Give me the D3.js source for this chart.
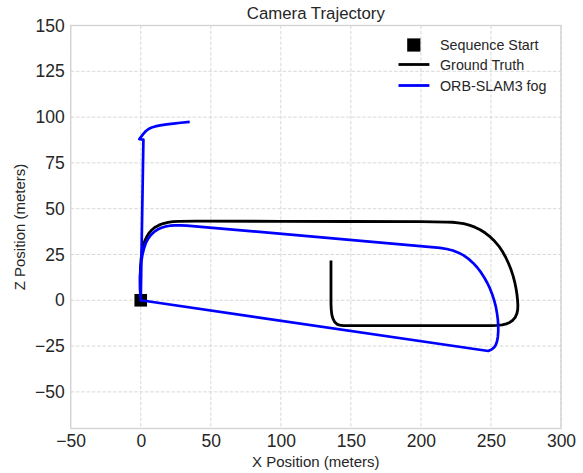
<!DOCTYPE html>
<html>
<head>
<meta charset="utf-8">
<script src="https://cdn.jsdelivr.net/npm/d3@7"></script>
<style>
  body { margin: 0; background: #fff; }
  svg { display: block; font-family: "Liberation Sans", Arial, sans-serif; }
</style>
</head>
<body>
<script>
// axis ticks
let xTicks = [-50, 0, 50, 100, 150, 200, 250, 300];
let yTicks = [-50, -25, 0, 25, 50, 75, 100, 125, 150];

// sequence start marker
let startPoint = [0, 0];

// ground truth trajectory [x, z] in meters
let groundTruth = [
  [0, 0], [-0.3, 6], [-0.4, 12.7], [-0.2, 18], [0.3, 23], [1, 27], [2, 30.5],
  [3.2, 33], [4.5, 35], [6, 36.8], [8, 38.5], [10.3, 39.9], [13, 41], [16, 41.9],
  [19.5, 42.5], [23, 42.9], [27, 43.1], [40, 43.2], [100, 43.1], [150, 43],
  [200, 42.9], [218.4, 42.7], [222.5, 42.6], [226.5, 42.3], [230.5, 41.8],
  [234.5, 41], [238.5, 39.9], [242.3, 38.5], [246, 36.7], [249.5, 34.6],
  [252.7, 32.2], [255.6, 29.6], [258.2, 26.6], [260.5, 23.5], [262.5, 20.2],
  [264.3, 16.8], [265.8, 13.3], [267, 9.8], [267.9, 6.4], [268.6, 3], [269, 0],
  [269.2, -2.5], [269.1, -5], [268.5, -7.3], [267.3, -9.3], [265.6, -10.9],
  [263.4, -12.1], [261, -12.9], [258, -13.4], [254, -13.7], [250, -13.8],
  [200, -13.8], [150, -13.8], [144.6, -13.8], [142, -13.6], [140, -13],
  [138.4, -11.8], [137.2, -10], [136.4, -7.8], [136, -5.2], [135.8, -2],
  [135.8, 10], [135.8, 21]
];

// ORB-SLAM3 fog estimate [x, z] in meters
let orbSlamFog = [
  [0, 0], [-0.5, 6], [-0.5, 12.7], [-0.1, 17], [0.4, 21], [1.2, 24.8], [2.2, 28],
  [3.5, 31], [5.2, 33.5], [7.2, 35.6], [9.5, 37.3], [12, 38.6], [14.8, 39.6],
  [17.8, 40.3], [21, 40.7], [24.5, 40.9], [28.5, 40.9], [32.8, 40.8],
  [213.6, 28.6], [218.5, 28], [222.8, 27.2], [226.8, 26], [230.5, 24.5],
  [234, 22.6], [237.2, 20.4], [240.2, 17.9], [242.9, 15.2], [245.3, 12.3],
  [247.5, 9.3], [249.4, 6.2], [251, 3], [252.4, -0.3], [253.5, -3.6], [254.3, -7],
  [254.9, -10.4], [255.2, -13.8], [255.2, -17], [254.9, -20], [254.3, -22.5],
  [253.4, -24.4], [252.2, -25.8], [250.5, -26.8], [248.1, -27.7], [0, 0],
  [1.9, 87.7], [-1, 88], [0.5, 89.5], [2, 91], [3.7, 92.4], [5.6, 93.5],
  [7.8, 94.3], [10.3, 94.9], [13.8, 95.5], [18.5, 96], [23.3, 96.4],
  [28.5, 96.9], [34, 97.3]
];

let legendItems = ["Sequence Start", "Ground Truth", "ORB-SLAM3 fog"];

let width = 583;
let height = 473;
let margin = { left: 70.7, right: 22, top: 25.5, bottom: 44.5 };
let textColor = "#262626";

let svg = d3.select("body").append("svg")
  .attr("width", width)
  .attr("height", height);

let xScale = d3.scaleLinear()
  .domain([-50, 300])
  .range([margin.left, width - margin.right]);
let yScale = d3.scaleLinear()
  .domain([-70, 150])
  .range([height - margin.bottom, margin.top]);

// grid
let gGrid = svg.append("g");
gGrid.selectAll("line.vgrid").data(xTicks).enter().append("line")
  .classed("vgrid", true)
  .attr("x1", (d) => xScale(d)).attr("x2", (d) => xScale(d))
  .attr("y1", margin.top).attr("y2", height - margin.bottom);
gGrid.selectAll("line.hgrid").data(yTicks).enter().append("line")
  .classed("hgrid", true)
  .attr("x1", margin.left).attr("x2", width - margin.right)
  .attr("y1", (d) => yScale(d)).attr("y2", (d) => yScale(d));
gGrid.selectAll("line")
  .attr("stroke", "#d4d4d4")
  .attr("stroke-width", 0.9)
  .attr("stroke-dasharray", "3.5,1.8");

// axes (labels only, no tick marks)
let xAxis = d3.axisBottom(xScale).tickValues(xTicks).tickSize(0).tickPadding(6.5);
let gXAxis = svg.append("g")
  .attr("transform", `translate(0, ${height - margin.bottom})`)
  .call(xAxis);
let yAxis = d3.axisLeft(yScale).tickValues(yTicks).tickSize(0).tickPadding(6);
let gYAxis = svg.append("g")
  .attr("transform", `translate(${margin.left}, 0)`)
  .call(yAxis);
[gXAxis, gYAxis].forEach((g) => {
  g.select(".domain").remove();
  g.selectAll("text")
    .attr("fill", textColor)
    .style("font-size", "17.5px")
    .style("font-family", "'Liberation Sans', Arial, sans-serif");
});

// start marker
svg.append("rect")
  .attr("x", xScale(startPoint[0]) - 6.3)
  .attr("y", yScale(startPoint[1]) - 6.3)
  .attr("width", 12.6)
  .attr("height", 12.6)
  .attr("fill", "black");

let line = d3.line()
  .x((d) => xScale(d[0]))
  .y((d) => yScale(d[1]));

svg.append("path")
  .datum(groundTruth)
  .attr("d", line)
  .attr("fill", "none")
  .attr("stroke", "black")
  .attr("stroke-width", 2.8)
  .attr("stroke-linejoin", "round")
  .attr("stroke-linecap", "square");

svg.append("path")
  .datum(orbSlamFog)
  .attr("d", line)
  .attr("fill", "none")
  .attr("stroke", "#0000ff")
  .attr("stroke-width", 2.7)
  .attr("stroke-linejoin", "round")
  .attr("stroke-linecap", "square");

// frame
svg.append("rect")
  .attr("x", margin.left)
  .attr("y", margin.top)
  .attr("width", width - margin.left - margin.right)
  .attr("height", height - margin.top - margin.bottom)
  .attr("fill", "none")
  .attr("stroke", "#d2d2d2")
  .attr("stroke-width", 1.3);

// title and axis labels
svg.append("text")
  .text("Camera Trajectory")
  .attr("x", (margin.left + width - margin.right) / 2)
  .attr("y", 13.3)
  .attr("dy", "0.35em")
  .attr("text-anchor", "middle")
  .attr("fill", textColor)
  .style("font-size", "16.8px");
svg.append("text")
  .text("X Position (meters)")
  .attr("x", (margin.left + width - margin.right) / 2)
  .attr("y", 461.5)
  .attr("dy", "0.35em")
  .attr("text-anchor", "middle")
  .attr("fill", textColor)
  .style("font-size", "15px");
svg.append("text")
  .text("Z Position (meters)")
  .attr("transform", `translate(20, ${(margin.top + height - margin.bottom) / 2}) rotate(-90)`)
  .attr("dy", "0.35em")
  .attr("text-anchor", "middle")
  .attr("fill", textColor)
  .style("font-size", "15px");

// legend
let legendY = [45, 64.5, 85.5];
let gLegend = svg.append("g");
gLegend.append("rect")
  .attr("x", 413.8 - 6.6).attr("y", legendY[0] - 6.6)
  .attr("width", 13.2).attr("height", 13.2)
  .attr("fill", "black");
gLegend.append("line")
  .attr("x1", 398.5).attr("x2", 429.4)
  .attr("y1", legendY[1]).attr("y2", legendY[1])
  .attr("stroke", "black").attr("stroke-width", 2.8);
gLegend.append("line")
  .attr("x1", 398.5).attr("x2", 429.4)
  .attr("y1", legendY[2]).attr("y2", legendY[2])
  .attr("stroke", "#0000ff").attr("stroke-width", 2.8);
gLegend.selectAll("text.legend-label").data(legendItems).enter().append("text")
  .classed("legend-label", true)
  .text((d) => d)
  .attr("x", 440)
  .attr("y", (d, i) => legendY[i])
  .attr("dy", "0.35em")
  .attr("fill", textColor)
  .style("font-size", "14.3px");
</script>
</body>
</html>
